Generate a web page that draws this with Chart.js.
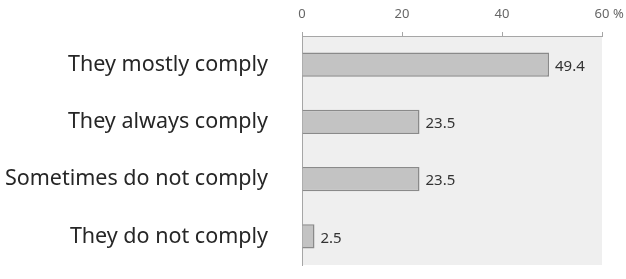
<!DOCTYPE html>
<html>
<head>
<meta charset="utf-8">
<script src="https://cdn.jsdelivr.net/npm/chart.js@4/dist/chart.umd.min.js"></script>
<style>
  html, body { margin: 0; padding: 0; background: #fff; }
  #wrap { width: 626px; height: 279px; }
</style>
</head>
<body>
<div id="wrap"><canvas id="complyChart"></canvas></div>
<script>
const categories = ["They mostly comply", "They always comply", "Sometimes do not comply", "They do not comply"];
const shares = [49.4, 23.5, 23.5, 2.5];
const tickValues = [0, 20, 40, 60];
const unitLabel = "%";

const ctx = document.getElementById("complyChart");

// grey plot area behind the bars
const plotBackground = {
    id: "plotBackground",
    beforeDraw(chart) {
        const { ctx, chartArea } = chart;
        ctx.save();
        ctx.fillStyle = "#efefef";
        ctx.fillRect(chartArea.left, chartArea.top, chartArea.right - chartArea.left, chartArea.bottom - chartArea.top);
        ctx.restore();
    },
};

// value labels at the end of each bar, plus the unit after the last tick
const valueLabels = {
    id: "valueLabels",
    afterDatasetsDraw(chart) {
        const { ctx } = chart;
        const meta = chart.getDatasetMeta(0);
        ctx.save();
        ctx.fillStyle = "#333";
        ctx.font = "15px 'Noto Sans'";
        ctx.textBaseline = "middle";
        ctx.textAlign = "left";
        meta.data.forEach((bar, i) => {
            ctx.fillText(shares[i].toFixed(1), bar.x + 6, bar.y + 2);
        });
        const x = chart.scales.x;
        ctx.fillStyle = "#666";
        ctx.font = "13px 'Noto Sans'";
        ctx.fillText(unitLabel, x.getPixelForValue(tickValues[tickValues.length - 1]) + 11, 14);
        ctx.restore();
    },
};

const data = {
    labels: categories,
    datasets: [
        {
            data: shares,
            backgroundColor: "#c3c3c3",
            borderColor: "#8a8a8a",
            borderWidth: 1.5,
            categoryPercentage: 1,
            barPercentage: 0.42,
        },
    ],
};

const config = {
    type: "bar",
    data: data,
    options: {
        indexAxis: "y",
        responsive: true,
        maintainAspectRatio: false,
        animation: false,
        layout: { padding: { left: 0, right: 24, top: 0, bottom: 14 } },
        plugins: {
            legend: { display: false },
            tooltip: { enabled: false },
        },
        scales: {
            x: {
                position: "top",
                min: 0,
                max: 60,
                afterBuildTicks(scale) {
                    scale.ticks = tickValues.map((v) => ({ value: v }));
                },
                afterFit(scale) {
                    scale.height = 36;
                    scale.paddingLeft = 0;
                    scale.paddingRight = 0;
                },
                ticks: {
                    color: "#666",
                    font: { family: "'Noto Sans'", size: 13 },
                    padding: 10,
                },
                grid: {
                    drawOnChartArea: false,
                    drawTicks: true,
                    tickLength: 4,
                    color: "#a6a6a6",
                },
                border: { color: "#a6a6a6", width: 1 },
            },
            y: {
                afterFit(scale) {
                    scale.width = 302;
                    scale.paddingTop = 0;
                    scale.paddingBottom = 0;
                },
                ticks: {
                    color: "#262626",
                    font: { family: "'Noto Sans'", size: 21.5 },
                    padding: 34,
                },
                grid: { display: false, drawTicks: false },
                border: { color: "#a6a6a6", width: 1 },
            },
        },
    },
    plugins: [plotBackground, valueLabels],
};

new Chart(ctx, config);
</script>
</body>
</html>
